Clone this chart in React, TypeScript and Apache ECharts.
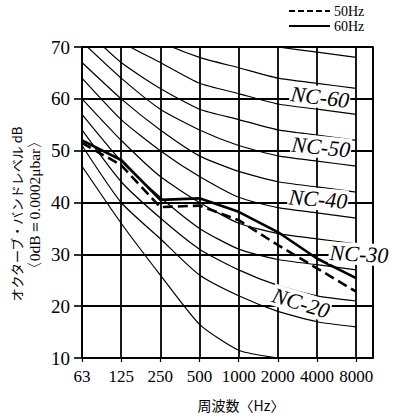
import React, { useEffect, useRef } from 'react';
import * as echarts from 'echarts';

const freqLabels = ['63', '125', '250', '500', '1000', '2000', '4000', '8000'];
const yMin = 10;
const yMax = 70;
const yStep = 10;

const nc70 = [83, 79, 75, 72, 71, 70, 69, 68];
const nc65 = [80, 75, 71, 68, 66, 64, 63, 62];
const nc60 = [77, 71, 67, 63, 61, 59, 58, 57];
const nc55 = [74, 67, 62, 58, 56, 54, 53, 52];
const nc50 = [71, 64, 58, 54, 51, 49, 48, 47];
const nc45 = [67, 60, 54, 49, 46, 44, 43, 42];
const nc40 = [64, 56, 50, 45, 41, 39, 38, 37];
const nc35 = [60, 52, 45, 40, 36, 34, 33, 32];
const nc30 = [57, 48, 41, 35, 31, 29, 28, 27];
const nc25 = [54, 44, 37, 31, 27, 24, 22, 21];
const nc20 = [51, 40, 33, 26, 22, 19, 17, 16];
const ncLow = [47, 36, 26, 16.5, 11.5, 10];

const hz50 = [51.5, 47.2, 39.1, 39.4, 36.6, 31.8, 27.3, 22.8];
const hz60 = [52, 48.2, 40.5, 40.8, 38.2, 34.3, 29.2, 25.4];

const ncCurves = [nc70, nc65, nc60, nc55, nc50, nc45, nc40, nc35, nc30, nc25, nc20, ncLow];
const ncLabels = ['NC-60', 'NC-50', 'NC-40', 'NC-30', 'NC-20'];
const legendNames = ['50Hz', '60Hz'];
const xName = '周波数〈Hz〉';
const yName1 = 'オクターブ・バンドレベル dB';
const yName2 = '〈0dB＝0.0002μbar〉';

const SERIF = '"Liberation Serif", "DejaVu Serif", serif';
const CJK = '"Noto Sans CJK JP", sans-serif';

export default function App() {
  const ref = useRef<HTMLDivElement>(null);
  useEffect(() => {
    if (!ref.current) return;
    const chart = echarts.init(ref.current, null, { renderer: 'svg' });
    const toPts = (arr: number[]) => arr.map((v, i) => [i, v]);
    const series: any[] = ncCurves.map((c, k) => ({
      type: 'line',
      name: 'nc' + k,
      data: toPts(c),
      symbol: 'none',
      smooth: 0.2,
      clip: true,
      lineStyle: { color: '#000', width: 1.2 },
      silent: true,
      z: 2,
    }));
    series.push({
      type: 'line',
      name: legendNames[0],
      data: toPts(hz50),
      symbol: 'none',
      clip: true,
      lineStyle: { color: '#000', width: 2.6, type: [10, 5] },
      z: 3,
    });
    series.push({
      type: 'line',
      name: legendNames[1],
      data: toPts(hz60),
      symbol: 'none',
      clip: true,
      lineStyle: { color: '#000', width: 2.6 },
      z: 3,
    });

    const ncPos = [
      [320, 97, -0.12],
      [321, 147, -0.1],
      [318, 199, -0.08],
      [359, 254, -0.05],
      [301, 303, -0.3],
    ];

    const graphic: any[] = [];
    ncLabels.forEach((t, i) => {
      graphic.push({
        type: 'text',
        x: ncPos[i][0],
        y: ncPos[i][1],
        rotation: ncPos[i][2],
        z: 100,
        style: {
          text: t,
          fontFamily: SERIF,
          fontStyle: 'italic',
          fontSize: 22,
          fill: '#000',
          align: 'center',
          verticalAlign: 'middle',
          backgroundColor: '#fff',
          padding: [0, 1],
        },
      });
    });
    // legend
    graphic.push({ type: 'line', shape: { x1: 289, y1: 11, x2: 330, y2: 11 }, style: { stroke: '#000', lineWidth: 2.2, lineDash: [6, 3] } });
    graphic.push({ type: 'line', shape: { x1: 289, y1: 26, x2: 330, y2: 26 }, style: { stroke: '#000', lineWidth: 2.2 } });
    graphic.push({ type: 'text', x: 334, y: 11, style: { text: legendNames[0], fontFamily: SERIF, fontSize: 14, fill: '#000', verticalAlign: 'middle' } });
    graphic.push({ type: 'text', x: 334, y: 26, style: { text: legendNames[1], fontFamily: SERIF, fontSize: 14, fill: '#000', verticalAlign: 'middle' } });
    // axis names
    graphic.push({ type: 'text', x: 241, y: 405, style: { text: xName, fontFamily: CJK, fontSize: 14, fill: '#000', align: 'center', verticalAlign: 'middle' } });
    graphic.push({ type: 'text', x: 16, y: 214, rotation: Math.PI / 2, style: { text: yName1, fontFamily: CJK, fontSize: 13, fill: '#000', align: 'center', verticalAlign: 'middle' } });
    graphic.push({ type: 'text', x: 34, y: 205, rotation: Math.PI / 2, style: { text: yName2, fontFamily: SERIF, fontSize: 15.5, fill: '#000', align: 'center', verticalAlign: 'middle' } });

    chart.setOption({
      animation: false,
      backgroundColor: '#fff',
      grid: { left: 82, right: 20, top: 47, bottom: 58, show: true, borderColor: '#000', borderWidth: 1.6, backgroundColor: 'transparent' },
      xAxis: {
        type: 'value',
        min: 0,
        max: 7.43,
        interval: 1,
        axisLine: { show: true, lineStyle: { color: '#000', width: 1.6 } },
        axisTick: { show: true, length: 4, lineStyle: { color: '#000', width: 1.2 } },
        axisLabel: {
          color: '#000',
          fontFamily: SERIF,
          fontSize: 17,
          margin: 10,
          showMaxLabel: false,
          formatter: (v: number) => (Number.isInteger(v) && freqLabels[v] ? freqLabels[v] : ''),
        },
        splitLine: { show: true, lineStyle: { color: '#000', width: 1.8 } },
      },
      yAxis: {
        type: 'value',
        min: yMin,
        max: yMax,
        interval: yStep,
        axisLine: { show: true, lineStyle: { color: '#000', width: 1.6 } },
        axisTick: { show: true, length: 8, lineStyle: { color: '#000', width: 1.6 } },
        axisLabel: { color: '#000', fontFamily: SERIF, fontSize: 19, margin: 12 },
        splitLine: { show: true, lineStyle: { color: '#000', width: 1.8 } },
      },
      series,
      graphic,
    });
    return () => chart.dispose();
  }, []);
  return <div ref={ref} style={{ width: 393, height: 416, position: 'absolute', left: 0, top: 0 }} />;
}
